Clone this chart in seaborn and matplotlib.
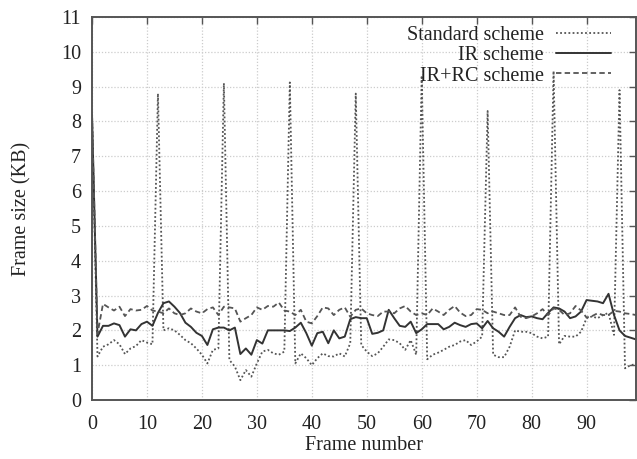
import numpy as np
import pandas as pd
import matplotlib
matplotlib.use("Agg")
import matplotlib.pyplot as plt
import seaborn as sns

frames = list(range(100))
standard = [8.2, 1.25, 1.53, 1.6, 1.72, 1.6, 1.32, 1.48, 1.55, 1.72,
            1.65, 1.6, 8.8, 2.0, 2.06, 2.0, 1.87, 1.72, 1.63, 1.48,
            1.3, 1.05, 1.44, 1.48, 9.1, 1.15, 0.96, 0.57, 0.86, 0.67,
            1.05, 1.39, 1.44, 1.34, 1.3, 1.39, 9.12, 1.05, 1.34, 1.2,
            1.0, 1.2, 1.34, 1.26, 1.25, 1.34, 1.25, 1.63, 8.8, 1.58,
            1.39, 1.26, 1.34, 1.53, 1.74, 1.72, 1.63, 1.44, 1.72, 1.3,
            9.32, 1.17, 1.3, 1.36, 1.44, 1.53, 1.58, 1.68, 1.72, 1.58,
            1.68, 1.82, 8.3, 1.3, 1.23, 1.23, 1.53, 2.0, 1.96, 1.96,
            1.92, 1.82, 1.77, 1.82, 9.45, 1.6, 1.84, 1.82, 1.82, 1.96,
            2.35, 2.4, 2.35, 2.44, 2.5, 1.87, 8.9, 0.91, 1.0, 1.03]
ir = [8.2, 1.82, 2.13, 2.13, 2.2, 2.15, 1.82, 2.03, 2.0, 2.18,
      2.25, 2.13, 2.5, 2.78, 2.83, 2.68, 2.5, 2.22, 2.1, 1.93,
      1.84, 1.58, 2.03, 2.08, 2.08, 2.0, 2.08, 1.32, 1.48, 1.3,
      1.72, 1.62, 2.0, 2.0, 2.0, 2.0, 1.98, 2.08, 2.22, 1.92,
      1.56, 1.92, 1.96, 1.63, 2.0, 1.77, 1.82, 2.32, 2.38, 2.35,
      2.35, 1.9, 1.93, 2.0, 2.59, 2.35, 2.13, 2.1, 2.25, 1.92,
      2.03, 2.18, 2.18, 2.18, 2.03, 2.1, 2.22, 2.15, 2.1, 2.18,
      2.2, 2.06, 2.27, 2.06, 1.96, 1.82, 2.1, 2.35, 2.44, 2.38,
      2.4, 2.35, 2.32, 2.5, 2.66, 2.63, 2.54, 2.35, 2.4, 2.54,
      2.87, 2.85, 2.83, 2.78, 3.05, 2.44, 2.0, 1.84, 1.79, 1.74]
ir_rc = [8.2, 1.9, 2.76, 2.66, 2.57, 2.68, 2.41, 2.61, 2.57, 2.59,
         2.7, 2.57, 2.54, 2.49, 2.63, 2.49, 2.44, 2.49, 2.63, 2.54,
         2.49, 2.61, 2.66, 2.44, 2.68, 2.66, 2.63, 2.25, 2.35, 2.44,
         2.66, 2.59, 2.7, 2.68, 2.8, 2.57, 2.54, 2.44, 2.59, 2.25,
         2.2, 2.41, 2.66, 2.63, 2.44, 2.59, 2.66, 2.39, 2.59, 2.63,
         2.49, 2.44, 2.41, 2.54, 2.54, 2.49, 2.63, 2.7, 2.54, 2.44,
         2.49, 2.44, 2.63, 2.54, 2.44, 2.59, 2.7, 2.51, 2.41, 2.44,
         2.61, 2.59, 2.49, 2.54, 2.49, 2.44, 2.44, 2.66, 2.39, 2.35,
         2.4, 2.49, 2.61, 2.44, 2.63, 2.59, 2.44, 2.49, 2.7, 2.57,
         2.37, 2.41, 2.49, 2.44, 2.44, 2.56, 2.54, 2.49, 2.47, 2.44]
series_names = ["Standard scheme", "IR scheme", "IR+RC scheme"]
x_ticks = list(range(0, 100, 10))
y_ticks = list(range(0, 12))

sns.set_style("white")
plt.rcParams['font.family'] = ['Liberation Serif', 'DejaVu Serif']
plt.rcParams['font.size'] = 14.5

fig = plt.figure(figsize=(6.37, 4.59), dpi=100)
ax = fig.add_axes([92/637, 1 - 400/459, 544/637, 383/459])

styles = {
    "Standard scheme": dict(color="#555555", lw=1.3, ls=(0, (1, 1.3))),
    "IR scheme": dict(color="#333333", lw=1.4, ls="-"),
    "IR+RC scheme": dict(color="#555555", lw=1.3, ls=(0, (3, 1.8))),
}
for name, vals in zip(series_names, [standard, ir, ir_rc]):
    df = pd.DataFrame({"frame": frames, "size": vals})
    st = styles[name]
    sns.lineplot(data=df, x="frame", y="size", ax=ax, label=name,
                 color=st["color"], linewidth=st["lw"], linestyle=st["ls"])

ax.set_xlim(0, 99)
ax.set_ylim(0, 11)
ax.set_xticks(x_ticks)
ax.set_yticks(y_ticks)
ax.grid(True, color="#cccccc", linestyle=(0, (1, 1.5)), linewidth=0.9)
ax.set_axisbelow(True)
for sp in ax.spines.values():
    sp.set_color("#555555")
    sp.set_linewidth(1.4)
ax.tick_params(direction="in", top=True, right=True, length=5, width=1,
               color="#555555", labelsize=14.5, labelcolor="#222222")
ax.tick_params(axis="x", pad=11)
ax.tick_params(axis="y", pad=8)
ax.set_xlabel("Frame number", fontsize=14.5, color="#222222", labelpad=1)
ax.set_ylabel("Frame size (KB)", fontsize=14.5, color="#222222", labelpad=21)

leg = ax.legend(loc="upper right", bbox_to_anchor=(0.968, 0.997), frameon=False,
                markerfirst=False, handlelength=2.7, labelspacing=0.05,
                handletextpad=0.6, borderaxespad=0.0, fontsize=14.5)
for t in leg.get_texts():
    t.set_color("#222222")

fig.savefig("out.png", dpi=100)
